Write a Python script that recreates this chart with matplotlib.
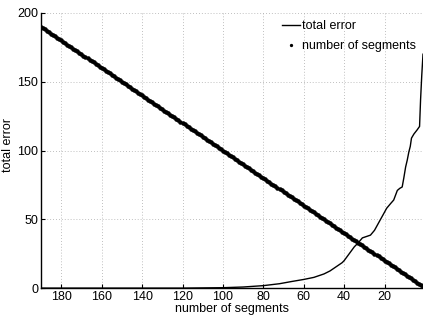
import matplotlib
matplotlib.use("Agg")
import matplotlib.pyplot as plt
import numpy as np

plt.rcParams['font.family'] = ['Liberation Sans', 'DejaVu Sans']

# number of segments (x) and corresponding value (y = x)
segments = list(range(190, 0, -1))

# total error curve
err_x = [190, 150, 120, 100, 90, 80, 72, 66, 60, 55, 50, 47, 45, 43, 41, 40, 38.5, 37, 35, 33, 31, 29, 27, 25, 23.5, 22, 20.3, 19, 17, 15.5, 13.7, 12.5, 11.3, 10.5, 9.6, 8.8, 8, 7.3, 6.7, 5.5, 3.9, 2.7, 2.2, 1.6, 1]
err_y = [0, 0, 0, 0.3, 0.8, 1.8, 3.2, 4.8, 6.3, 7.8, 10.3, 12.5, 14.5, 16.5, 18.5, 20, 23, 26, 30, 33, 36.5, 37.5, 38.5, 42, 46, 50, 54.5, 58, 61.5, 64, 71, 72.5, 73.5, 80, 88, 93, 99, 103, 109, 112, 115, 117.5, 137, 155, 170]

fig = plt.figure(figsize=(4.23, 3.23), dpi=100)
ax = fig.add_axes([0.097, 0.108, 0.903, 0.852])

ax.plot(err_x, err_y, color='black', lw=1.0, label='total error')
ax.plot(segments, segments, linestyle='none', marker='.', color='black', markersize=4.5, label='number of segments')

ax.set_xlim(190, 1)
ax.set_ylim(0, 200)
ax.set_xticks([180, 160, 140, 120, 100, 80, 60, 40, 20])
ax.set_yticks([0, 50, 100, 150, 200])
ax.tick_params(direction='in', labelsize=9, length=3, width=0.8, pad=2)
ax.grid(True, linestyle=(0, (1, 2.5)), color='#aaaaaa', linewidth=0.6)
for s in ['top', 'right']:
    ax.spines[s].set_visible(False)
ax.spines['left'].set_linewidth(1.0)
ax.spines['bottom'].set_linewidth(1.0)

ax.set_xlabel('number of segments', fontsize=9, labelpad=0)
ax.set_ylabel('total error', fontsize=9)
ax.yaxis.set_label_coords(-0.07, 0.52)

leg = ax.legend(loc='upper right', frameon=False, fontsize=9, handlelength=1.4,
                handletextpad=0.15, borderaxespad=0.2, labelspacing=0.6,
                markerscale=0.6, bbox_to_anchor=(1.0, 1.0))

fig.savefig('out.png', dpi=100)
